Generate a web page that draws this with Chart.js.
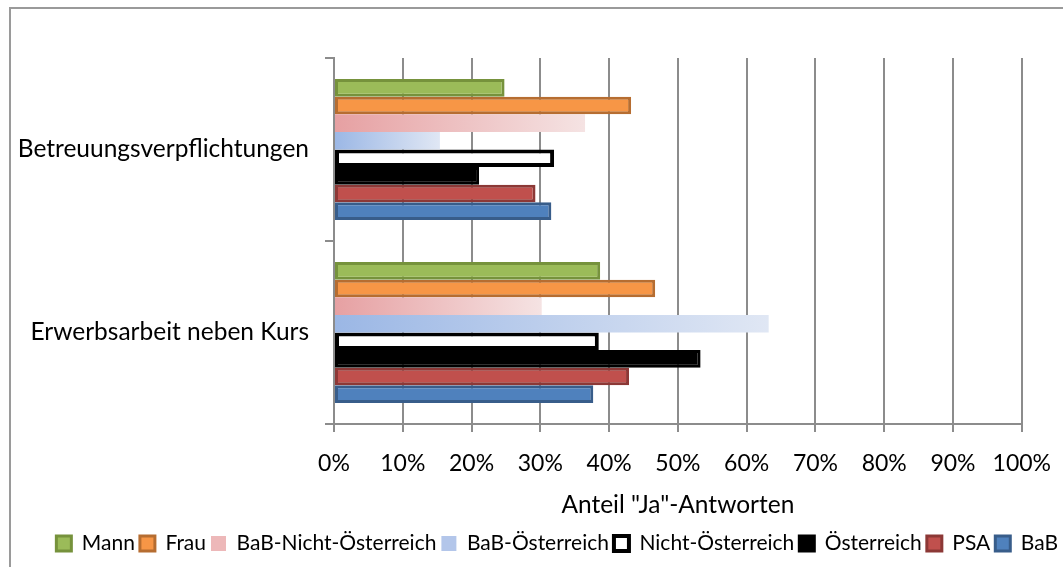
<!DOCTYPE html>
<html>
<head>
<meta charset="utf-8">
<script src="https://cdn.jsdelivr.net/npm/chart.js@4.4.1/dist/chart.umd.min.js"></script>
<style>
  html, body { margin:0; padding:0; background:#fff; }
  #wrap { position:relative; width:1063px; height:567px; overflow:hidden; }
  #frame { position:absolute; left:9px; top:7px; width:1100px; height:600px; border:2px solid #9a9a9a; box-sizing:border-box; }
  canvas { position:absolute; left:0; top:0; }
</style>
</head>
<body>
<div id="wrap">
  <div id="frame"></div>
  <canvas id="chart" width="1063" height="567"></canvas>
</div>
<script>
// Kategorien (von oben nach unten)
const categories = ["Betreuungsverpflichtungen", "Erwerbsarbeit neben Kurs"];

// Anteile "Ja" (0..1), Reihenfolge wie in der Legende
const mann           = [0.248, 0.387];
const frau           = [0.432, 0.467];
const babNichtOest   = [0.365, 0.302];
const babOest        = [0.154, 0.632];
const nichtOest      = [0.320, 0.385];
const oesterreich    = [0.211, 0.533];
const psa            = [0.293, 0.429];
const bab            = [0.316, 0.377];

const xTicks = [0, 0.1, 0.2, 0.3, 0.4, 0.5, 0.6, 0.7, 0.8, 0.9, 1.0];

const FONT = "Lato";
const GRID = "#8c8c8c";
const PINK_FLAT = "#EDB8B9";
const BLUE_FLAT = "#B3C6EA";

// Verlauf entlang des Balkens (hell nach rechts), wie in der Excel-Vorlage
function barGradient(from, to, flat){
  return (ctx)=>{
    if(ctx.type !== "data") return flat;
    const chart = ctx.chart;
    if(!chart.chartArea || !chart.scales.x) return flat;
    const x0 = chart.scales.x.getPixelForValue(0);
    const x1 = chart.scales.x.getPixelForValue(ctx.raw);
    if(!(x1 > x0)) return flat;
    const g = chart.ctx.createLinearGradient(x0, 0, x1, 0);
    g.addColorStop(0, from);
    g.addColorStop(1, to);
    return g;
  };
}

function ds(label, data, fill, border, bw, legendFill){
  return {
    label, data,
    backgroundColor: fill,
    borderColor: border,
    borderWidth: bw,
    borderSkipped: false,
    legendFill,
  };
}

const datasets = [
  ds("Mann", mann, "#9BBB59", "#76923C", 3),
  ds("Frau", frau, "#F79646", "#B66D31", 3),
  ds("BaB-Nicht-Österreich", babNichtOest, barGradient("#E6A0A2", "#F5E3E3", PINK_FLAT), "rgba(0,0,0,0)", 0, PINK_FLAT),
  ds("BaB-Österreich", babOest, barGradient("#9BB7E5", "#E0E7F4", BLUE_FLAT), "rgba(0,0,0,0)", 0, BLUE_FLAT),
  ds("Nicht-Österreich", nichtOest, "#FFFFFF", "#000000", 4),
  ds("Österreich", oesterreich, "#000000", "#000000", 3),
  ds("PSA", psa, "#C0504D", "#8C3836", 3),
  ds("BaB", bab, "#4F81BD", "#385D8A", 3),
];

new Chart(document.getElementById("chart"), {
  type: "bar",
  data: { labels: categories, datasets },
  options: {
    indexAxis: "y",
    responsive: false,
    animation: false,
    events: [],
    layout: { padding: { top: 58, right: 0, left: 0, bottom: 3 } },
    datasets: { bar: { categoryPercentage: 0.77, barPercentage: 1.0 } },
    scales: {
      x: {
        min: 0, max: 1,
        afterBuildTicks: (scale)=>{ scale.ticks = xTicks.map(v=>({value:v})); },
        afterFit: (scale)=>{ scale.height = 104; },
        ticks: {
          color: "#000",
          // grosse Zeilenhoehe schiebt die Beschriftung nach unten, ohne den rechten Rand zu vergroessern
          font: { family: FONT, size: 23, lineHeight: 1.74 },
          padding: 12,
          maxRotation: 0,
          callback: (v)=> Math.round(v*100) + "%",
        },
        grid: { color: GRID, lineWidth: 2, tickLength: 8, tickColor: GRID },
        border: { color: GRID, width: 2 },
        title: {
          display: true,
          text: 'Anteil "Ja"-Antworten',
          color: "#000",
          font: { family: FONT, size: 24.5 },
          padding: { top: 4, bottom: 8 },
        },
      },
      y: {
        afterFit: (scale)=>{ scale.width = 334; },
        ticks: {
          color: "#000",
          font: { family: FONT, size: 24.5 },
          padding: 16,
        },
        grid: { drawOnChartArea: false, color: GRID, lineWidth: 2, tickLength: 9, tickColor: GRID },
        border: { color: GRID, width: 2 },
      },
    },
    plugins: {
      tooltip: { enabled: false },
      legend: {
        position: "bottom",
        align: "end",
        labels: {
          color: "#000",
          font: { family: FONT, size: 21 },
          boxWidth: 15,
          boxHeight: 15,
          padding: 5,
          generateLabels: (chart)=>{
            const items = Chart.defaults.plugins.legend.labels.generateLabels(chart);
            items.forEach(it=>{
              const d = chart.data.datasets[it.datasetIndex];
              if(d.legendFill) it.fillStyle = d.legendFill;
            });
            return items;
          },
        },
      },
    },
  },
});
</script>
</body>
</html>
